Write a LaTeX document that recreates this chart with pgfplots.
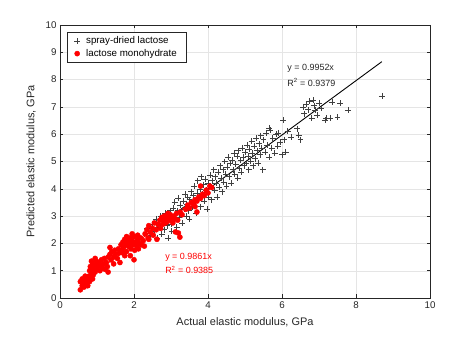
\documentclass[border=0pt]{standalone}
\usepackage{fontspec}
\setmainfont{Liberation Sans}
\usepackage{pgfplots}
\pgfplotsset{compat=1.18}
\definecolor{axgray}{rgb}{0.15,0.15,0.15}
\definecolor{mred}{rgb}{1,0,0}

\begin{document}
\begin{tikzpicture}
\useasboundingbox (-60bp,-39bp) rectangle (412bp,298bp);
\begin{axis}[
    at={(0,0)}, anchor=south west,
    scale only axis,
    width=370bp, height=273bp,
    xmin=0, xmax=10, ymin=0, ymax=10,
    xtick={0,2,...,10}, ytick={0,1,...,10},
    grid=major,
    grid style={black!10, line width=0.4pt},
    axis line style={axgray, line width=0.5pt},
    tick style={axgray, line width=0.5pt},
    tick align=inside,
    major tick length=3.5bp,
    /pgf/number format/assume math mode=true,
    tick label style={font=\fontsize{9.8}{10}\selectfont, text=axgray},
    label style={font=\fontsize{11}{12}\selectfont, text=axgray},
    xlabel={Actual elastic modulus, GPa},
    ylabel={Predicted elastic modulus, GPa},
    xlabel style={yshift=-2pt},
    ylabel style={yshift=3pt},
    legend cell align=left,
    legend style={at={(rel axis cs:0.019,0.974)}, anchor=north west,
        draw=axgray, line width=0.4pt,
        font=\fontsize{9.8}{10}\selectfont,
        inner xsep=7pt, inner ysep=2.5pt, row sep=0pt,
        /tikz/every odd column/.style={column sep=4pt}},
]
% spray-dried lactose
\addplot[only marks, mark=+, mark size=3pt, black!75, mark options={line width=0.55pt}] coordinates {
(2.35,2.55) (2.45,2.3) (2.5,2.7) (2.55,2.45) (2.6,2.9) (2.62,2.2) (2.7,2.6) (2.72,3.0)
(2.75,2.35) (2.8,2.8) (2.82,2.5) (2.85,3.1) (2.9,2.65) (2.92,2.2) (2.95,2.95) (2.98,3.2)
(3.0,2.7) (3.02,2.45)
(3.05,3.3) (3.08,2.9) (3.1,3.5) (3.12,3.05) (3.15,2.6) (3.18,3.2) (3.2,3.65) (3.22,2.95)
(3.25,3.4) (3.28,3.1) (3.3,2.75) (3.32,3.55) (3.35,3.25) (3.38,3.8) (3.4,3.0) (3.42,3.45)
(3.45,3.7) (3.48,3.2) (3.5,2.9) (3.5,3.6)
(3.55,3.9) (3.58,3.35) (3.6,3.75) (3.62,4.1) (3.65,3.5) (3.68,3.1) (3.7,3.85) (3.72,4.3)
(3.75,3.6) (3.78,4.0) (3.8,3.35) (3.82,4.45) (3.85,3.8) (3.88,4.15) (3.9,3.55) (3.92,4.35)
(3.95,3.95) (3.98,3.25) (4.0,4.2) (4.02,3.7)
(4.05,4.5) (4.08,4.05) (4.1,3.6) (4.12,4.3) (4.15,4.7) (4.18,3.95) (4.2,4.45) (4.22,4.2)
(4.25,3.7) (4.28,4.6) (4.3,4.05) (4.32,4.85) (4.35,4.4) (4.38,3.9) (4.4,4.7) (4.42,4.25)
(4.45,5.0) (4.48,4.55) (4.5,4.1)
(4.52,4.8) (4.55,5.15) (4.58,4.45) (4.6,4.95) (4.62,4.2) (4.65,5.05) (4.68,4.7) (4.7,5.3)
(4.72,4.55) (4.75,4.9) (4.78,5.2) (4.8,4.4) (4.82,5.4) (4.85,4.75) (4.88,5.05) (4.9,4.6)
(4.92,5.5) (4.95,5.15) (4.98,4.85) (5.0,5.35)
(5.03,4.95) (5.05,5.6) (5.08,5.2) (5.1,4.7) (5.12,5.45) (5.15,5.0) (5.18,5.75) (5.2,5.3)
(5.22,4.85) (5.25,5.55) (5.28,5.1) (5.3,5.85) (5.32,5.4) (5.35,4.95) (5.38,5.65) (5.4,5.25)
(5.42,5.95) (5.45,5.5) (5.48,4.7) (5.5,5.8)
(5.55,5.35) (5.58,6.05) (5.6,5.6) (5.65,5.15) (5.65,6.23) (5.68,6.15) (5.72,5.5) (5.75,5.85)
(5.8,5.3) (5.85,6.0) (5.88,5.55) (5.9,6.05) (5.95,5.7) (6.0,5.25) (6.03,6.52) (6.05,5.8)
(6.1,5.35) (6.15,6.1)
(6.25,5.9) (6.4,6.2) (6.45,5.97) (6.5,5.8) (6.57,7.0) (6.6,6.75) (6.65,7.1) (6.7,6.9)
(6.75,7.2) (6.8,6.6) (6.84,7.25) (6.86,7.05) (6.9,6.89) (6.95,6.7) (7.0,7.15) (7.05,6.95)
(7.16,6.52) (7.2,6.6) (7.3,6.6) (7.35,7.18) (7.5,6.63) (7.57,7.14) (7.78,6.89) (8.7,7.4)
};
\addlegendentry{spray-dried lactose}
% lactose monohydrate
\addplot[only marks, mark=*, mark size=2.6pt, mred, mark options={draw=mred, fill=mred}] coordinates {
(0.55,0.3) (0.6,0.45) (0.62,0.6) (0.65,0.4) (0.68,0.55) (0.7,0.7) (0.72,0.5) (0.75,0.65)
(0.78,0.8) (0.8,0.6) (0.82,0.75) (0.85,0.9) (0.88,0.7) (0.9,0.85) (0.6,0.7) (0.68,0.8)
(0.75,0.45) (0.95,0.95) (0.55,0.6)
(0.8,1.0) (0.82,1.15) (0.85,1.05) (0.88,1.25) (0.9,1.1) (0.92,0.95) (0.95,1.2) (0.98,1.35)
(1.0,1.05) (1.02,1.15) (1.05,1.3) (1.08,1.0) (1.1,1.2) (1.12,1.4) (1.15,1.1) (1.18,1.25)
(1.2,1.45) (1.22,1.05) (1.25,1.3) (1.28,1.15) (0.85,1.35) (0.95,1.45) (1.3,0.95)
(1.3,1.5) (1.35,1.6) (1.38,1.4) (1.4,1.7) (1.45,1.5) (1.48,1.75) (1.5,1.6) (1.55,1.45)
(1.58,1.8) (1.6,1.65) (1.62,1.3) (1.45,1.25) (1.35,1.85)
(1.65,1.95) (1.68,1.75) (1.7,2.05) (1.72,1.85) (1.75,2.15) (1.78,1.95) (1.8,1.7) (1.82,2.1)
(1.85,1.9) (1.88,2.2) (1.9,2.0) (1.92,1.8) (1.95,2.1) (1.98,1.95) (2.0,2.25) (2.02,1.75)
(2.05,2.05) (2.08,1.9) (2.1,2.15) (2.12,1.8) (2.15,2.0) (2.18,2.2) (2.2,1.95) (1.8,2.25)
(1.95,2.35) (2.1,2.3) (1.75,1.55) (1.9,1.55) (2.0,1.4) (2.25,2.1) (2.28,1.9) (1.7,1.65)
(2.3,2.35) (2.35,2.5) (2.38,2.2) (2.4,2.65) (2.45,2.4) (2.5,2.55) (2.52,2.3) (2.55,2.75)
(2.6,2.5) (2.62,2.15) (2.65,2.7) (2.7,2.85) (2.72,2.55) (2.75,2.95) (2.78,2.7) (2.4,2.15)
(2.8,2.85) (2.82,3.0) (2.85,2.75) (2.88,2.95) (2.9,2.8) (2.92,3.1) (2.95,2.9) (2.98,3.05)
(3.0,2.85) (3.02,2.95) (3.05,2.75) (3.08,3.0) (3.1,2.9) (3.12,2.42) (3.15,3.1) (3.18,2.85)
(3.24,2.23) (3.2,2.38) (3.25,3.15) (3.3,3.05)
(3.4,3.25) (3.45,3.4) (3.5,3.3) (3.55,3.5) (3.6,3.45) (3.65,3.6) (3.7,3.55) (3.7,3.15)
(3.75,3.7) (3.8,3.65) (3.85,3.8) (3.9,3.75) (3.65,3.35) (3.95,3.95) (4.05,4.1) (4.1,4.05)
(3.8,4.1) (4.0,3.85)
};
\addlegendentry{lactose monohydrate}
% fitted lines
\addplot[forget plot, black, line width=0.9pt] coordinates {(2.3,2.289) (8.7,8.658)};
\addplot[forget plot, mred, line width=0.9pt] coordinates {(0.55,0.542) (4.1,4.043)};
\node[anchor=west, font=\fontsize{9}{9}\selectfont, text=black!85] at (axis cs:6.05,8.42) {y = 0.9952x};
\node[anchor=west, font=\fontsize{9}{9}\selectfont, text=black!85] at (axis cs:6.05,7.91) {R\textsuperscript{2} = 0.9379};
\node[anchor=west, font=\fontsize{9}{9}\selectfont, text=mred] at (axis cs:2.75,1.50) {y = 0.9861x};
\node[anchor=west, font=\fontsize{9}{9}\selectfont, text=mred] at (axis cs:2.75,1.03) {R\textsuperscript{2} = 0.9385};
\end{axis}
\end{tikzpicture}
\end{document}
